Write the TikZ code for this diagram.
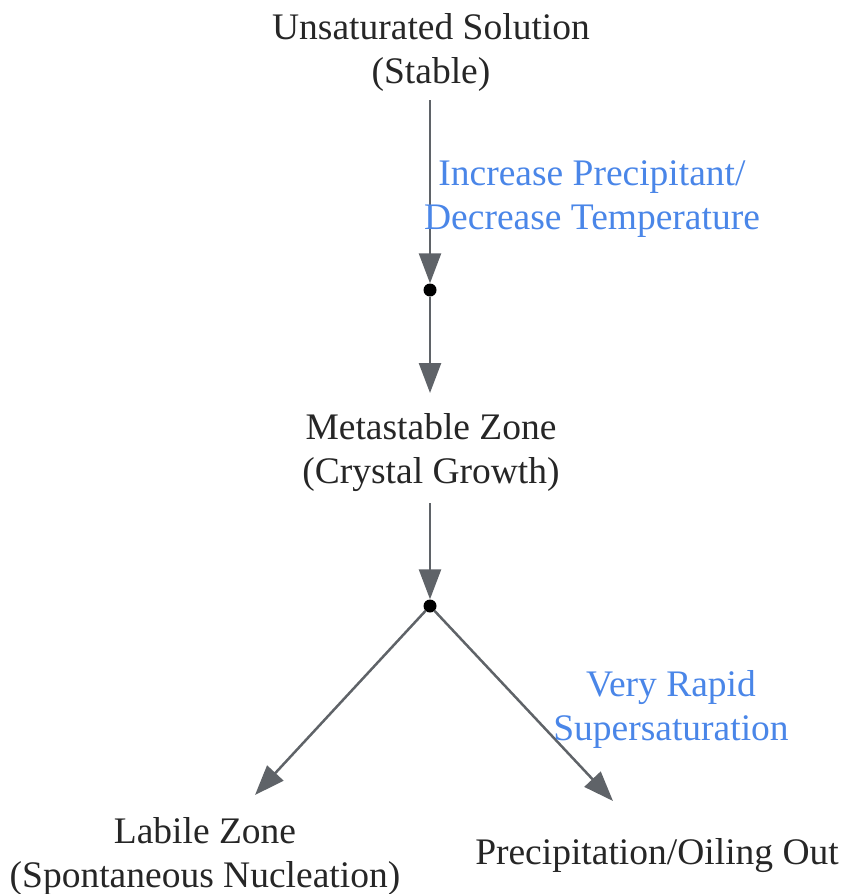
\documentclass[tikz,border=0pt]{standalone}
\usepackage{fontspec}
\setmainfont{Liberation Serif}
\usetikzlibrary{arrows.meta}
\definecolor{edgegray}{HTML}{5F6368}
\definecolor{lblblue}{HTML}{4A86E8}
\begin{document}
\begin{tikzpicture}[x=1pt,y=-1pt,
  txt/.style={font=\fontsize{37.5}{44}\selectfont, align=center, text=black!85, inner sep=0pt},
  lbl/.style={font=\fontsize{37.5}{44}\selectfont, align=center, text=lblblue, inner sep=0pt},
  conn/.style={draw=edgegray, line width=2.5pt, -{Triangle[length=30pt,width=22pt]}},
  junction/.style={circle, fill=black, inner sep=0pt, minimum size=13pt}]
\useasboundingbox (0,0) rectangle (842,894);
\node[txt] (uns) at (431,52) {Unsaturated Solution\\(Stable)};
\node[txt] (meta) at (431,453) {Metastable Zone\\(Crystal Growth)};
\node[txt] (lab) at (205,856) {Labile Zone\\(Spontaneous Nucleation)};
\node[txt] (prec) at (657,856) {Precipitation/Oiling Out};
\node[junction] (j1) at (430,290) {};
\node[junction] (j2) at (430,606) {};
\coordinate (unsb) at (430,100);
\coordinate (metat) at (430,393);
\coordinate (metab) at (430,503);
\coordinate (labt) at (255,795);
\coordinate (prect) at (613,801);
\draw[conn] (unsb) -- (j1.north);
\draw[conn] (j1) -- (metat);
\draw[conn] (metab) -- (j2.north);
\draw[conn] (j2) -- (labt);
\draw[conn] (j2) -- (prect);
\node[lbl] (l1) at (592,199) {Increase Precipitant/\\Decrease Temperature};
\node[lbl] (l2) at (671,709) {Very Rapid\\Supersaturation};
\end{tikzpicture}
\end{document}
